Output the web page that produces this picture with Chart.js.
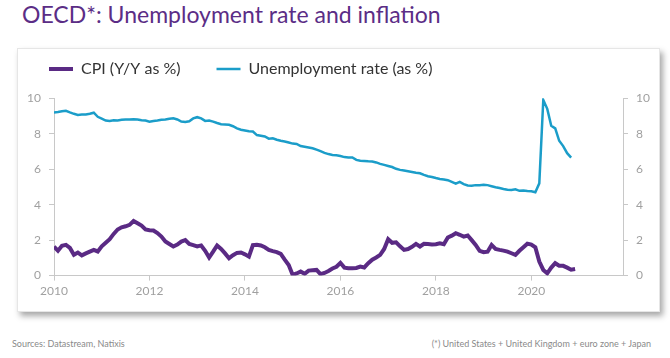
<!DOCTYPE html>
<html>
<head>
<meta charset="utf-8">
<script src="https://cdn.jsdelivr.net/npm/chart.js@4.4.0/dist/chart.umd.min.js"></script>
<style>
  html, body { margin: 0; padding: 0; }
  body {
    width: 670px; height: 358px; position: relative; overflow: hidden;
    background: #fff; font-family: Lato, "Open Sans", sans-serif;
  }
  .title {
    position: absolute; left: 22px; top: 0px;
    font-size: 23px; color: #5b2d86; white-space: nowrap;
  }
  .card {
    position: absolute; left: 17px; top: 48px; width: 641px; height: 262px;
    background: #fff; border: 1px solid #e6e6e6;
    box-shadow: 3px 4px 6px rgba(0,0,0,0.35);
  }
  .card canvas { position: absolute; left: 0; top: 0; }
  .foot {
    position: absolute; top: 338px; font-size: 9px; color: #8a8a8a; white-space: nowrap;
  }
</style>
</head>
<body>
<div class="title">OECD*: Unemployment rate and inflation</div>
<div class="card"><canvas id="c" width="641" height="262"></canvas></div>
<div class="foot" style="left:12px">Sources: Datastream, Natixis</div>
<div class="foot" style="right:19px">(*) United States + United Kingdom + euro zone + Japan</div>
<script>
// monthly series, first value = January 2010
const startYear = 2010;

const cpi = [
  1.64, 1.40, 1.68, 1.73, 1.56, 1.17, 1.30, 1.14, 1.25, 1.35, 1.45, 1.36,
  1.65, 1.85, 2.05, 2.35, 2.60, 2.72, 2.78, 2.86, 3.08, 2.95, 2.82, 2.60,
  2.56, 2.54, 2.40, 2.20, 1.92, 1.78, 1.64, 1.75, 1.92, 2.00, 1.78, 1.72,
  1.64, 1.70, 1.40, 1.02, 1.35, 1.70, 1.50, 1.25, 0.98, 1.15, 1.28, 1.30,
  1.20, 1.07, 1.72, 1.74, 1.70, 1.60, 1.45, 1.38, 1.32, 1.22, 0.90, 0.60,
  0.04, 0.12, 0.23, 0.10, 0.28, 0.30, 0.32, 0.08, 0.15, 0.26, 0.40, 0.50,
  0.72, 0.45, 0.42, 0.42, 0.43, 0.51, 0.46, 0.70, 0.90, 1.02, 1.17, 1.50,
  2.05, 1.85, 1.88, 1.65, 1.45, 1.50, 1.62, 1.79, 1.64, 1.79, 1.78, 1.76,
  1.77, 1.82, 1.77, 2.15, 2.25, 2.39, 2.30, 2.20, 2.26, 2.00, 1.73, 1.40,
  1.32, 1.35, 1.73, 1.50, 1.45, 1.41, 1.35, 1.26, 1.17, 1.40, 1.60, 1.80,
  1.75, 1.60, 0.79, 0.32, 0.13, 0.45, 0.70, 0.56, 0.55, 0.45, 0.33, 0.37
];

const unemployment = [
  9.20, 9.22, 9.26, 9.29, 9.20, 9.12, 9.06, 9.08, 9.08, 9.12, 9.18, 8.95,
  8.85, 8.74, 8.72, 8.76, 8.74, 8.78, 8.80, 8.80, 8.82, 8.80, 8.76, 8.74,
  8.68, 8.72, 8.74, 8.78, 8.80, 8.84, 8.87, 8.80, 8.68, 8.66, 8.70, 8.86,
  8.93, 8.86, 8.72, 8.74, 8.68, 8.60, 8.53, 8.52, 8.50, 8.42, 8.30, 8.22,
  8.18, 8.14, 8.12, 7.92, 7.88, 7.84, 7.72, 7.74, 7.66, 7.60, 7.56, 7.50,
  7.44, 7.42, 7.30, 7.26, 7.22, 7.18, 7.10, 7.02, 6.92, 6.85, 6.80, 6.78,
  6.74, 6.68, 6.66, 6.66, 6.52, 6.48, 6.46, 6.44, 6.43, 6.38, 6.30, 6.24,
  6.18, 6.12, 6.02, 5.96, 5.92, 5.88, 5.84, 5.80, 5.77, 5.68, 5.60, 5.56,
  5.50, 5.45, 5.42, 5.38, 5.28, 5.18, 5.28, 5.16, 5.08, 5.06, 5.10, 5.10,
  5.12, 5.10, 5.04, 4.98, 4.94, 4.88, 4.84, 4.82, 4.86, 4.78, 4.80, 4.77,
  4.75, 4.70, 5.20, 9.90, 9.40, 8.45, 8.30, 7.60, 7.30, 6.90, 6.65
];

const xTickYears = [2010, 2012, 2014, 2016, 2018, 2020];
const yTickValues = [0, 2, 4, 6, 8, 10];

const toPoints = arr => arr.map((v, i) => ({ x: startYear + i / 12, y: v }));

const axisColor = '#c8c8c8';
const tickColor = '#a0a0a0';
const tickFont = { family: 'Lato', size: 12 };

function yAxis(position, width) {
  return {
    position: position,
    min: 0, max: 10,
    border: { color: axisColor, width: 1 },
    grid: { drawOnChartArea: false, color: axisColor, tickLength: 5 },
    afterBuildTicks: axis => { axis.ticks = yTickValues.map(v => ({ value: v })); },
    afterFit: axis => { axis.width = width; },
    ticks: { color: tickColor, font: tickFont, padding: 8 }
  };
}

new Chart(document.getElementById('c'), {
  type: 'line',
  data: {
    datasets: [
      {
        label: 'CPI (Y/Y as %)',
        data: toPoints(cpi),
        borderColor: '#5a2a84',
        backgroundColor: '#5a2a84',
        borderWidth: 4,
        yAxisID: 'y'
      },
      {
        label: 'Unemployment rate (as %)',
        data: toPoints(unemployment),
        borderColor: '#1b9dc9',
        backgroundColor: '#1b9dc9',
        borderWidth: 2.5,
        yAxisID: 'y2'
      }
    ]
  },
  options: {
    responsive: false,
    animation: false,
    devicePixelRatio: 1,
    elements: { point: { radius: 0 }, line: { tension: 0 } },
    layout: { padding: { left: -5, right: 5, top: -24, bottom: 10 } },
    plugins: {
      tooltip: { enabled: false },
      legend: {
        position: 'top',
        align: 'start',
        weight: 3000,
        labels: {
          usePointStyle: true,
          pointStyle: 'line',
          pointStyleWidth: 24,
          color: '#333',
          font: { family: 'Lato', size: 16 },
          padding: 36
        }
      },
      // empty spacer between legend and plot
      title: {
        display: true,
        text: '',
        font: { size: 1 },
        padding: { top: 0, bottom: 10 }
      }
    },
    scales: {
      x: {
        type: 'linear',
        min: 2010, max: 2021.92,
        border: { color: axisColor, width: 1 },
        grid: { drawOnChartArea: false, color: axisColor, tickLength: 5 },
        afterBuildTicks: axis => { axis.ticks = xTickYears.map(v => ({ value: v })); },
        ticks: { color: tickColor, font: tickFont, maxRotation: 0, callback: v => String(v) }
      },
      y: yAxis('left', 41),
      y2: yAxis('right', 31)
    }
  }
});
</script>
</body>
</html>
